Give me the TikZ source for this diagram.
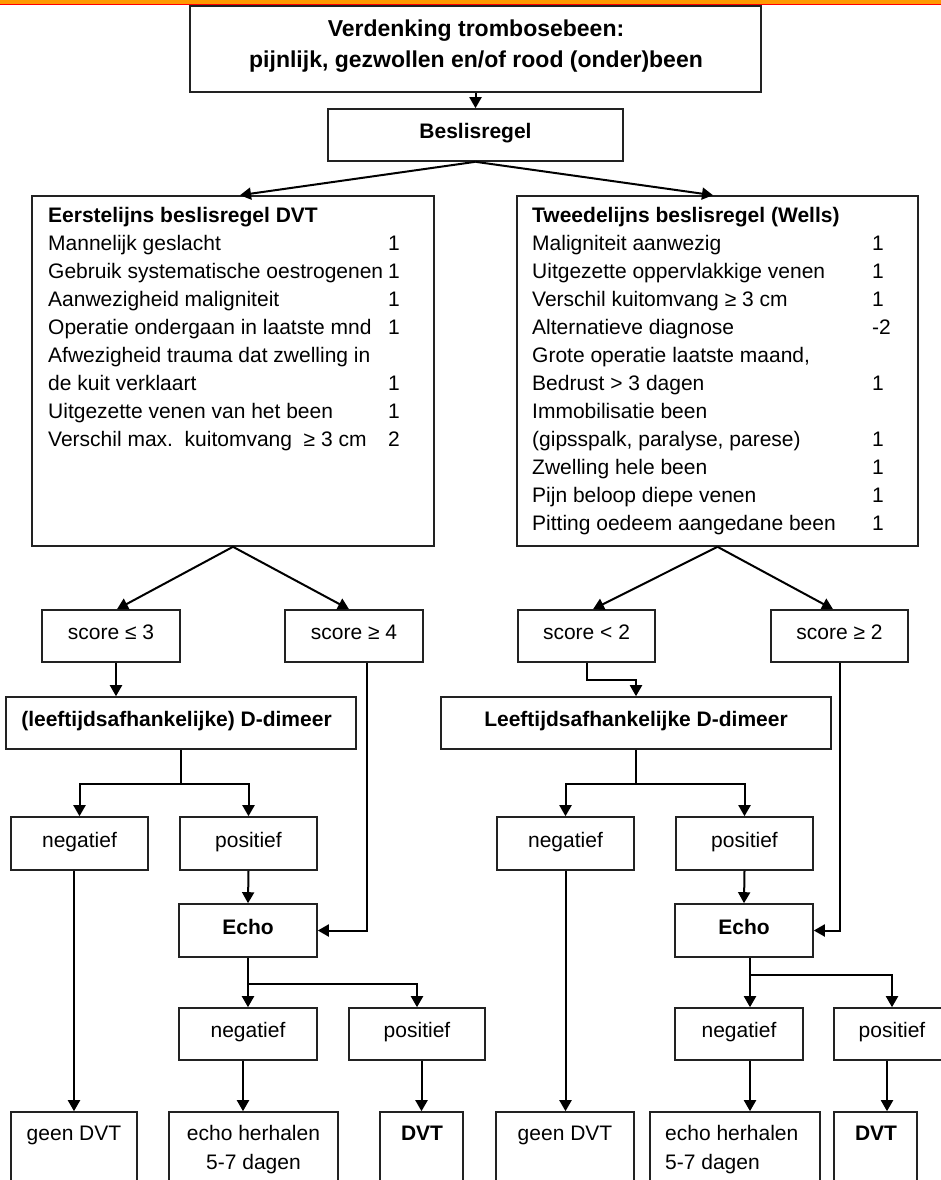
\documentclass[tikz,border=0pt]{standalone}
\usepackage{fontspec}
\setmainfont{Liberation Sans}
\usetikzlibrary{arrows.meta}
\definecolor{barorange}{HTML}{FF9900}
\definecolor{barred}{HTML}{FF0000}
\definecolor{boxline}{HTML}{222222}
\tikzset{
  bx/.style={draw=boxline, line width=1.6pt, inner sep=0pt, font=\fontsize{21}{25}\selectfont,
             text height=15pt, text depth=8pt},
  bxb/.style={bx, font=\fontsize{21}{25}\selectfont\bfseries},
  ebox/.style={draw=boxline, line width=1.6pt, inner sep=0pt},
  txt/.style={inner sep=0pt, anchor=base west, font=\fontsize{21}{25}\selectfont},
  txtb/.style={txt, font=\fontsize{21}{25}\selectfont\bfseries},
  ctxt/.style={inner sep=0pt, anchor=base, font=\fontsize{21}{25}\selectfont},
  ctxtb/.style={ctxt, font=\fontsize{21}{25}\selectfont\bfseries},
  ttl/.style={inner sep=0pt, anchor=base, font=\fontsize{23}{28}\selectfont\bfseries},
  arr/.style={line width=2pt, -{Triangle[length=11pt,width=12pt]}},
  ln/.style={line width=2pt},
}
\begin{document}
\begin{tikzpicture}[x=1pt,y=-1pt]
\useasboundingbox (0,0) rectangle (941,1180);
\fill[white] (0,0) rectangle (941,1180);
% top bar
\fill[barorange] (0,0) rectangle (941,4);
\fill[barred] (0,4) rectangle (941,5.3);

% top box
\node[ebox, minimum width=571pt, minimum height=86pt] (top) at (475.5,49) {};
\node[ttl] (topa) at (476,36.5) {Verdenking trombosebeen:};
\node[ttl] (topb) at (476,67.5) {pijnlijk, gezwollen en/of rood (onder)been};

\node[bxb, minimum width=295pt, minimum height=52pt] (besl) at (475.5,135) {Beslisregel};

% big boxes
\node[ebox, minimum width=402pt, minimum height=350pt] (L) at (233,371) {};
\node[ebox, minimum width=401pt, minimum height=350pt] (R) at (717.5,371) {};

% left box text
\node[txtb] (l0) at (48,222.5) {Eerstelijns beslisregel DVT};
\node[txt] (l1) at (48,250.5) {Mannelijk geslacht};
\node[txt] (l1n) at (388,250.5) {1};
\node[txt] (l2) at (48,278.5) {Gebruik systematische oestrogenen};
\node[txt] (l2n) at (388,278.5) {1};
\node[txt] (l3) at (48,306.5) {Aanwezigheid maligniteit};
\node[txt] (l3n) at (388,306.5) {1};
\node[txt] (l4) at (48,334.5) {Operatie ondergaan in laatste mnd};
\node[txt] (l4n) at (388,334.5) {1};
\node[txt] (l5) at (48,362.5) {Afwezigheid trauma dat zwelling in};
\node[txt] (l6) at (48,390.5) {de kuit verklaart};
\node[txt] (l6n) at (388,390.5) {1};
\node[txt] (l7) at (48,418.5) {Uitgezette venen van het been};
\node[txt] (l7n) at (388,418.5) {1};
\node[txt] (l8) at (48,446.5) {Verschil max.\ \ kuitomvang \ ≥ 3 cm};
\node[txt] (l8n) at (388,446.5) {2};

% right box text
\node[txtb] (r0) at (532,222.5) {Tweedelijns beslisregel (Wells)};
\node[txt] (r1) at (532,250.5) {Maligniteit aanwezig};
\node[txt] (r1n) at (872,250.5) {1};
\node[txt] (r2) at (532,278.5) {Uitgezette oppervlakkige venen};
\node[txt] (r2n) at (872,278.5) {1};
\node[txt] (r3) at (532,306.5) {Verschil kuitomvang ≥ 3 cm};
\node[txt] (r3n) at (872,306.5) {1};
\node[txt] (r4) at (532,334.5) {Alternatieve diagnose};
\node[txt] (r4n) at (872,334.5) {-2};
\node[txt] (r5) at (532,362.5) {Grote operatie laatste maand,};
\node[txt] (r6) at (532,390.5) {Bedrust > 3 dagen};
\node[txt] (r6n) at (872,390.5) {1};
\node[txt] (r7) at (532,418.5) {Immobilisatie been};
\node[txt] (r8) at (532,446.5) {(gipsspalk, paralyse, parese)};
\node[txt] (r8n) at (872,446.5) {1};
\node[txt] (r9) at (532,474.5) {Zwelling hele been};
\node[txt] (r9n) at (872,474.5) {1};
\node[txt] (r10) at (532,502.5) {Pijn beloop diepe venen};
\node[txt] (r10n) at (872,502.5) {1};
\node[txt] (r11) at (532,530.5) {Pitting oedeem aangedane been};
\node[txt] (r11n) at (872,530.5) {1};

% score boxes
\node[bx, minimum width=138pt, minimum height=52pt] (s1) at (111,636) {score ≤ 3};
\node[bx, minimum width=138pt, minimum height=52pt] (s2) at (354,636) {score ≥ 4};
\node[bx, minimum width=137pt, minimum height=52pt] (s3) at (586.5,636) {score < 2};
\node[bx, minimum width=137pt, minimum height=52pt] (s4) at (839.5,636) {score ≥ 2};

% D-dimeer
\node[bxb, minimum width=350pt, minimum height=52pt] (d1) at (181,723) {(leeftijdsafhankelijke) D-dimeer\hspace*{9pt}};
\node[bxb, minimum width=390pt, minimum height=52pt] (d2) at (636,723) {Leeftijdsafhankelijke D-dimeer};

% neg/pos after D-dimeer
\node[bx, minimum width=137pt, minimum height=53pt] (n1) at (79.5,843.5) {negatief};
\node[bx, minimum width=137pt, minimum height=53pt] (p1) at (248.5,843.5) {positief};
\node[bx, minimum width=137pt, minimum height=53pt] (n2) at (565.5,843.5) {negatief};
\node[bx, minimum width=137pt, minimum height=53pt] (p2) at (744.5,843.5) {positief};

% Echo
\node[bxb, minimum width=138pt, minimum height=53pt] (e1) at (248,930.5) {Echo};
\node[bxb, minimum width=138pt, minimum height=53pt] (e2) at (744,930.5) {Echo};

% neg/pos after Echo
\node[bx, minimum width=138pt, minimum height=52pt] (n3) at (248,1034) {negatief};
\node[bx, minimum width=136pt, minimum height=52pt] (p3) at (417,1034) {positief};
\node[bx, minimum width=128pt, minimum height=52pt] (n4) at (739,1034) {negatief};
\node[bx, minimum width=116pt, minimum height=52pt] (p4) at (892,1034) {positief};

% bottom boxes
\node[ebox, minimum width=126pt, minimum height=88pt] (g1) at (74,1156) {};
\node[ebox, minimum width=169pt, minimum height=88pt] (h1) at (253.5,1156) {};
\node[ebox, minimum width=83pt, minimum height=88pt] (v1) at (421.5,1156) {};
\node[ebox, minimum width=138pt, minimum height=88pt] (g2) at (565,1156) {};
\node[ebox, minimum width=170pt, minimum height=88pt] (h2) at (735,1156) {};
\node[ebox, minimum width=83pt, minimum height=88pt] (v2) at (875.5,1156) {};
\node[ctxt] (g1t) at (74,1140.5) {geen DVT};
\node[ctxt] (h1t) at (253.5,1140.5) {echo herhalen};
\node[ctxt] (h1u) at (253.5,1169.5) {5-7 dagen};
\node[ctxtb] (v1t) at (422,1140.5) {DVT};
\node[ctxt] (g2t) at (565,1140.5) {geen DVT};
\node[txt] (h2t) at (665,1140.5) {echo herhalen};
\node[txt] (h2u) at (665,1169.5) {5-7 dagen};
\node[ctxtb] (v2t) at (876,1140.5) {DVT};

% connectors
\draw[arr] (top.south) -- (besl.north);
\draw[arr] (besl.south) -- ([xshift=7pt]L.north);
\draw[arr] (besl.south) -- ([xshift=-4.5pt]R.north);
\draw[arr] (L.south) -- ([xshift=6pt]s1.north);
\draw[arr] (L.south) -- ([xshift=-5pt]s2.north);
\draw[arr] (R.south) -- ([xshift=6.5pt]s3.north);
\draw[arr] (R.south) -- ([xshift=-6.5pt]s4.north);
\draw[arr] ([xshift=5pt]s1.south) -- ([xshift=5pt]s1.south |- d1.north);
\draw[arr] (s3.south) -- ++(0,17) -| (d2.north);

\draw[ln] (d1.south) -- ++(0,34) coordinate (j1);
\draw[arr] (j1) -| (n1.north);
\draw[arr] (j1) -| (p1.north);
\draw[ln] (d2.south) -- ++(0,34) coordinate (j2);
\draw[arr] (j2) -| (n2.north);
\draw[arr] (j2) -| (p2.north);

\draw[arr] (g1.north |- n1.south) -- (g1.north);
\draw[arr] (p1.south) -- (e1.north);
\draw[arr] (n2.south) -- (n2.south |- g2.north);
\draw[arr] (p2.south) -- (e2.north);
\draw[arr] ([xshift=13pt]s2.south) |- (e1.east);
\draw[arr] (s4.south) |- (e2.east);

\draw[ln] (e1.south) -- ++(0,26.5) coordinate (j3);
\draw[arr] (j3) -| (n3.north);
\draw[arr] (j3) -| (p3.north);
\draw[ln] ([xshift=6pt]e2.south) -- ++(0,17.5) coordinate (j4);
\draw[arr] (j4) -| ([xshift=11pt]n4.north);
\draw[arr] (j4) -| (p4.north);

\draw[arr] ([xshift=-5pt]n3.south) -- ([xshift=-5pt]n3.south |- h1.north);
\draw[arr] (v1.north |- p3.south) -- (v1.north);
\draw[arr] ([xshift=11pt]n4.south) -- ([xshift=11pt]n4.south |- h2.north);
\draw[arr] ([xshift=-5pt]p4.south) -- ([xshift=-5pt]p4.south |- v2.north);
\end{tikzpicture}
\end{document}
